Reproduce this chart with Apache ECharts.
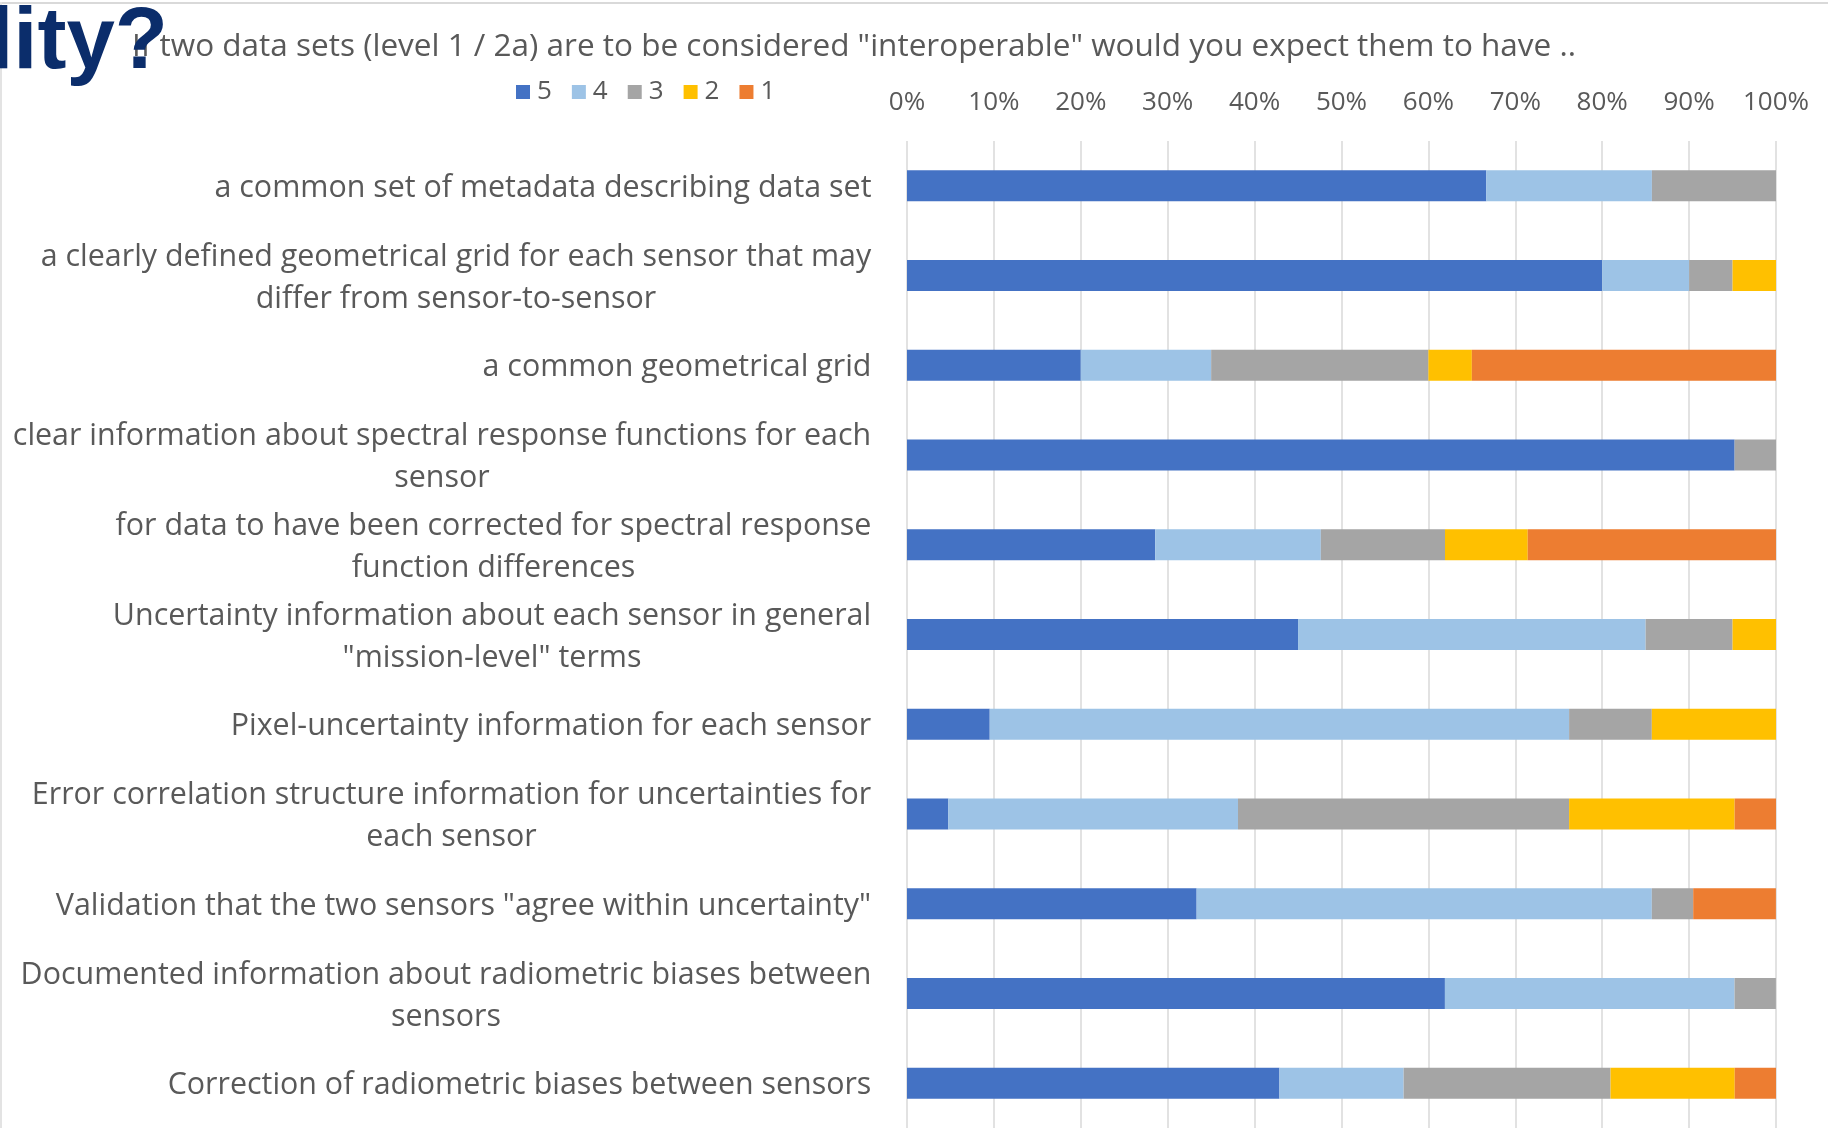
<!DOCTYPE html>
<html>
<head>
<meta charset="utf-8">
<script src="https://cdn.jsdelivr.net/npm/echarts@6/dist/echarts.min.js"></script>
<style>
html,body{margin:0;padding:0;background:#fff;}
#chart{width:1828px;height:1128px;}
</style>
</head>
<body>
<div id="chart"></div>
<script>
const categories = [
  'a common set of metadata describing data set',
  'a clearly defined geometrical grid for each sensor that may\ndiffer from sensor-to-sensor',
  'a common geometrical grid',
  'clear information about spectral response functions for each\nsensor',
  'for data to have been corrected for spectral response\nfunction differences',
  'Uncertainty information about each sensor in general\n"mission-level" terms',
  'Pixel-uncertainty information for each sensor',
  'Error correlation structure information for uncertainties for\neach sensor',
  'Validation that the two sensors "agree within uncertainty"',
  'Documented information about radiometric biases between\nsensors',
  'Correction of radiometric biases between sensors'
];
const seriesNames = ['5', '4', '3', '2', '1'];
const s5 = [66.67, 80, 20, 95.24, 28.57, 45, 9.52, 4.76, 33.33, 61.90, 42.86];
const s4 = [19.05, 10, 15, 0, 19.05, 40, 66.67, 33.33, 52.38, 33.33, 14.29];
const s3 = [14.29, 5, 25, 4.76, 14.29, 10, 9.52, 38.10, 4.76, 4.76, 23.81];
const s2 = [0, 5, 5, 0, 9.52, 5, 14.29, 19.05, 0, 0, 14.29];
const s1 = [0, 0, 35, 0, 28.57, 0, 0, 4.76, 9.52, 0, 4.76];
const colors = ['#4472c4', '#9dc3e6', '#a5a5a5', '#ffc000', '#ed7d31'];
const titleText = 'If two data sets (level 1 / 2a) are to be considered "interoperable" would you expect them to have ..';
const overlayText = 'lity?';

const FONT = '"Open Sans", "Noto Sans", sans-serif';
const GREY = '#595959';
const LABEL_SIZE = 30.4;
const allData = [s5, s4, s3, s2, s1];

// measure each category's widest line so that wrapped lines are centred like the original
const mctx = document.createElement('canvas').getContext('2d');
mctx.font = LABEL_SIZE + 'px ' + FONT;
const rich = {};
categories.forEach((c, i) => {
  const w = Math.max(...c.split('\n').map(l => mctx.measureText(l).width));
  rich['r' + i] = {width: Math.ceil(w) + 1, align: 'center', color: GREY, fontSize: LABEL_SIZE, fontFamily: FONT, lineHeight: 42};
});

const chart = echarts.init(document.getElementById('chart'), null, {renderer: 'canvas'});
chart.setOption({
  backgroundColor: '#ffffff',
  animation: false,
  textStyle: {fontFamily: FONT},
  color: colors,
  legend: {
    data: seriesNames,
    left: 511,
    top: 74,
    itemWidth: 14,
    itemHeight: 14,
    itemGap: 20,
    icon: 'rect',
    textStyle: {color: GREY, fontSize: 26, fontFamily: FONT, padding: [0, 0, 0, 2]}
  },
  grid: {left: 907, right: 52, top: 141, bottom: 0, containLabel: false},
  xAxis: {
    type: 'value',
    position: 'top',
    min: 0,
    max: 100,
    interval: 10,
    axisLine: {show: false},
    axisTick: {show: false},
    axisLabel: {formatter: '{value}%', color: GREY, fontSize: 26, fontFamily: FONT, margin: 25},
    splitLine: {show: true, lineStyle: {color: '#d9d9d9', width: 1.5}}
  },
  yAxis: {
    type: 'category',
    data: categories,
    inverse: true,
    axisLine: {show: false},
    axisTick: {show: false},
    axisLabel: {
      color: GREY, fontSize: LABEL_SIZE, fontFamily: FONT, margin: 35, lineHeight: 42, align: 'right',
      padding: [5, 0, 0, 0],
      formatter: (value, idx) => value.split('\n').map(l => '{r' + idx + '|' + l + '}').join('\n'),
      rich: rich
    }
  },
  series: allData.map((d, i) => ({
    name: seriesNames[i],
    type: 'bar',
    stack: 'total',
    data: d,
    barWidth: 31,
    itemStyle: {color: colors[i]}
  })),
  graphic: [
    {type: 'rect', shape: {x: 0, y: 2, width: 1828, height: 2}, style: {fill: '#d9d9d9'}, silent: true},
    {type: 'rect', shape: {x: 0, y: 2, width: 2, height: 1126}, style: {fill: '#e3e3e3'}, silent: true},
    {type: 'text', left: 132, top: 31, style: {text: titleText, fill: GREY, font: '31.5px ' + FONT}, z: 10},
    {type: 'text', x: 168, y: 44, style: {text: overlayText, fill: '#0b2d6b', font: 'bold 87px "Liberation Sans", Arial, sans-serif', textAlign: 'right', textVerticalAlign: 'middle'}, z: 20}
  ]
});
</script>
</body>
</html>
